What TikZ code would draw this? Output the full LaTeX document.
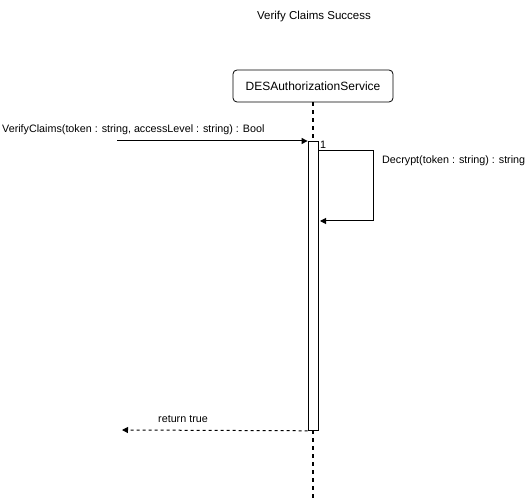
\documentclass[tikz,border=0pt]{standalone}
\usepackage{fontspec}
\setmainfont{Liberation Sans}
\usetikzlibrary{arrows.meta}
\begin{document}
\begin{tikzpicture}[x=1pt,y=-1pt,
  lbl/.style={font=\fontsize{10.75}{13}\selectfont, inner sep=0pt},
  msg/.style={draw, line width=1pt, -{Triangle[length=6pt,width=6pt]}},
  ret/.style={draw, line width=1pt, dash pattern=on 3pt off 3pt, -{Triangle[length=6pt,width=6pt]}},
  life/.style={draw, line width=2pt, dash pattern=on 4pt off 4pt}]
\useasboundingbox (0,0) rectangle (525,502);
\node[font=\fontsize{11.5}{14}\selectfont] (title) at (314,17) {Verify Claims Success};
\node[draw, rounded corners=4pt, minimum width=160pt, minimum height=32pt, font=\fontsize{12}{14}\selectfont, line width=0.8pt] (svc) at (313,86) {DESAuthorizationService};
\coordinate (lifeend) at (313,502);
\path[life] (svc.south) -- (lifeend);
\node[draw, fill=white, minimum width=10pt, minimum height=289pt, inner sep=0pt, anchor=north, line width=0.8pt] (act) at (313,141) {};
\coordinate (callstart) at (117,141);
\path[msg] (callstart) -- (act.north west);
\node[lbl, anchor=south west] (calllbl) at (2,135) {VerifyClaims(token : string, accessLevel : string) : Bool};
\node[lbl, anchor=west] (one) at (320,145) {1};
\coordinate (s1) at (318,151);
\coordinate (s2) at (373,151);
\coordinate (s3) at (373,221);
\coordinate (s4) at (320,221);
\path[msg] (s1) -- (s2) -- (s3) -- (s4);
\node[lbl, anchor=west] (declbl) at (382,161) {Decrypt(token : string) : string};
\coordinate (retend) at (122,430);
\path[ret] (act.south west) -- (retend);
\node[lbl] (retlbl) at (183,419) {return true};
\end{tikzpicture}
\end{document}
